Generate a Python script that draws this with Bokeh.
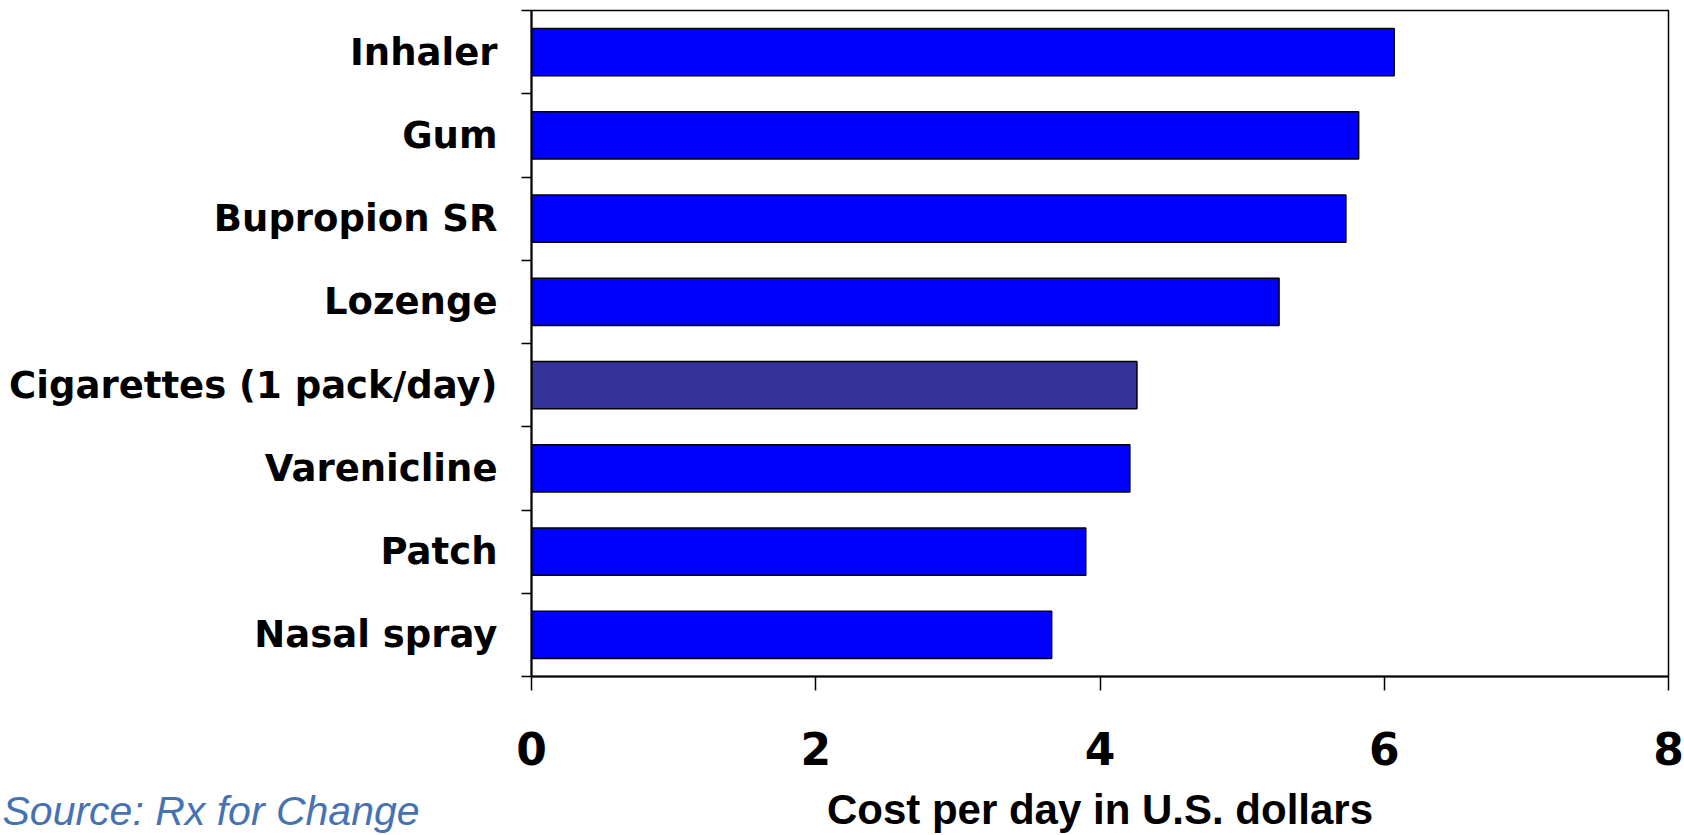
from bokeh.plotting import figure
from bokeh.models import Range1d, FixedTicker, Title, ColumnDataSource
from bokeh.embed import file_html
from bokeh.resources import INLINE

# Data (bottom to top)
categories = ["Nasal spray", "Patch", "Varenicline", "Cigarettes (1 pack/day)",
              "Lozenge", "Bupropion SR", "Gum", "Inhaler"]
costs = [3.66, 3.90, 4.21, 4.26, 5.26, 5.73, 5.82, 6.07]
colors = ["#0000FF", "#0000FF", "#0000FF", "#333399",
          "#0000FF", "#0000FF", "#0000FF", "#0000FF"]
x_ticks = [0, 2, 4, 6, 8]
source_note = "Source: Rx for Change"

positions = [i + 0.5 for i in range(len(categories))]
source = ColumnDataSource(dict(y=positions, cost=costs, color=colors, name=categories))

p = figure(width=1684, height=835, output_backend="svg", toolbar_location=None,
           x_range=Range1d(0, 8), y_range=Range1d(0, len(categories)),
           min_border_left=531, min_border_right=16, min_border_top=10,
           min_border_bottom=158)

p.hbar(y="y", left=0, right="cost", height=0.57, fill_color="color",
       line_color="black", line_width=1.5, source=source)

p.xgrid.visible = False
p.ygrid.visible = False
p.outline_line_color = "black"
p.outline_line_width = 1.5
p.background_fill_color = "white"
p.border_fill_color = "white"

# y axis: labels at centers, ticks at boundaries
yax = p.yaxis[0]
yax.ticker = FixedTicker(ticks=positions, minor_ticks=list(range(len(categories) + 1)))
yax.major_label_overrides = {pos: name for pos, name in zip(positions, categories)}
yax.major_tick_out = 0
yax.major_tick_in = 0
yax.minor_tick_out = 10
yax.minor_tick_in = 0
yax.minor_tick_line_color = "black"
yax.minor_tick_line_width = 1.5
yax.axis_line_color = "black"
yax.axis_line_width = 2
yax.major_label_text_font = "DejaVu Sans"
yax.major_label_text_font_style = "bold"
yax.major_label_text_font_size = "37px"
yax.major_label_text_color = "black"
yax.major_label_standoff = 24

# x axis
xax = p.xaxis[0]
xax.ticker = FixedTicker(ticks=x_ticks)
xax.minor_tick_line_color = None
xax.major_tick_out = 14
xax.major_tick_in = 0
xax.major_tick_line_color = "black"
xax.major_tick_line_width = 1.5
xax.axis_line_color = "black"
xax.axis_line_width = 2
xax.major_label_text_font = "DejaVu Sans"
xax.major_label_text_font_style = "bold"
xax.major_label_text_font_size = "44px"
xax.major_label_text_color = "black"
xax.major_label_standoff = 41
xax.axis_label = "Cost per day in U.S. dollars"
xax.axis_label_text_font = "Liberation Sans"
xax.axis_label_text_font_style = "bold"
xax.axis_label_text_font_size = "42px"
xax.axis_label_text_color = "black"
xax.axis_label_standoff = 18

note = Title(text=source_note, align="left", vertical_align="top",
             offset=-529, standoff=-96,
             text_font="Liberation Sans", text_font_style="italic",
             text_font_size="41px", text_color="#4672B4")
p.add_layout(note, "below")

open("out.html", "w").write(file_html(p, INLINE))
